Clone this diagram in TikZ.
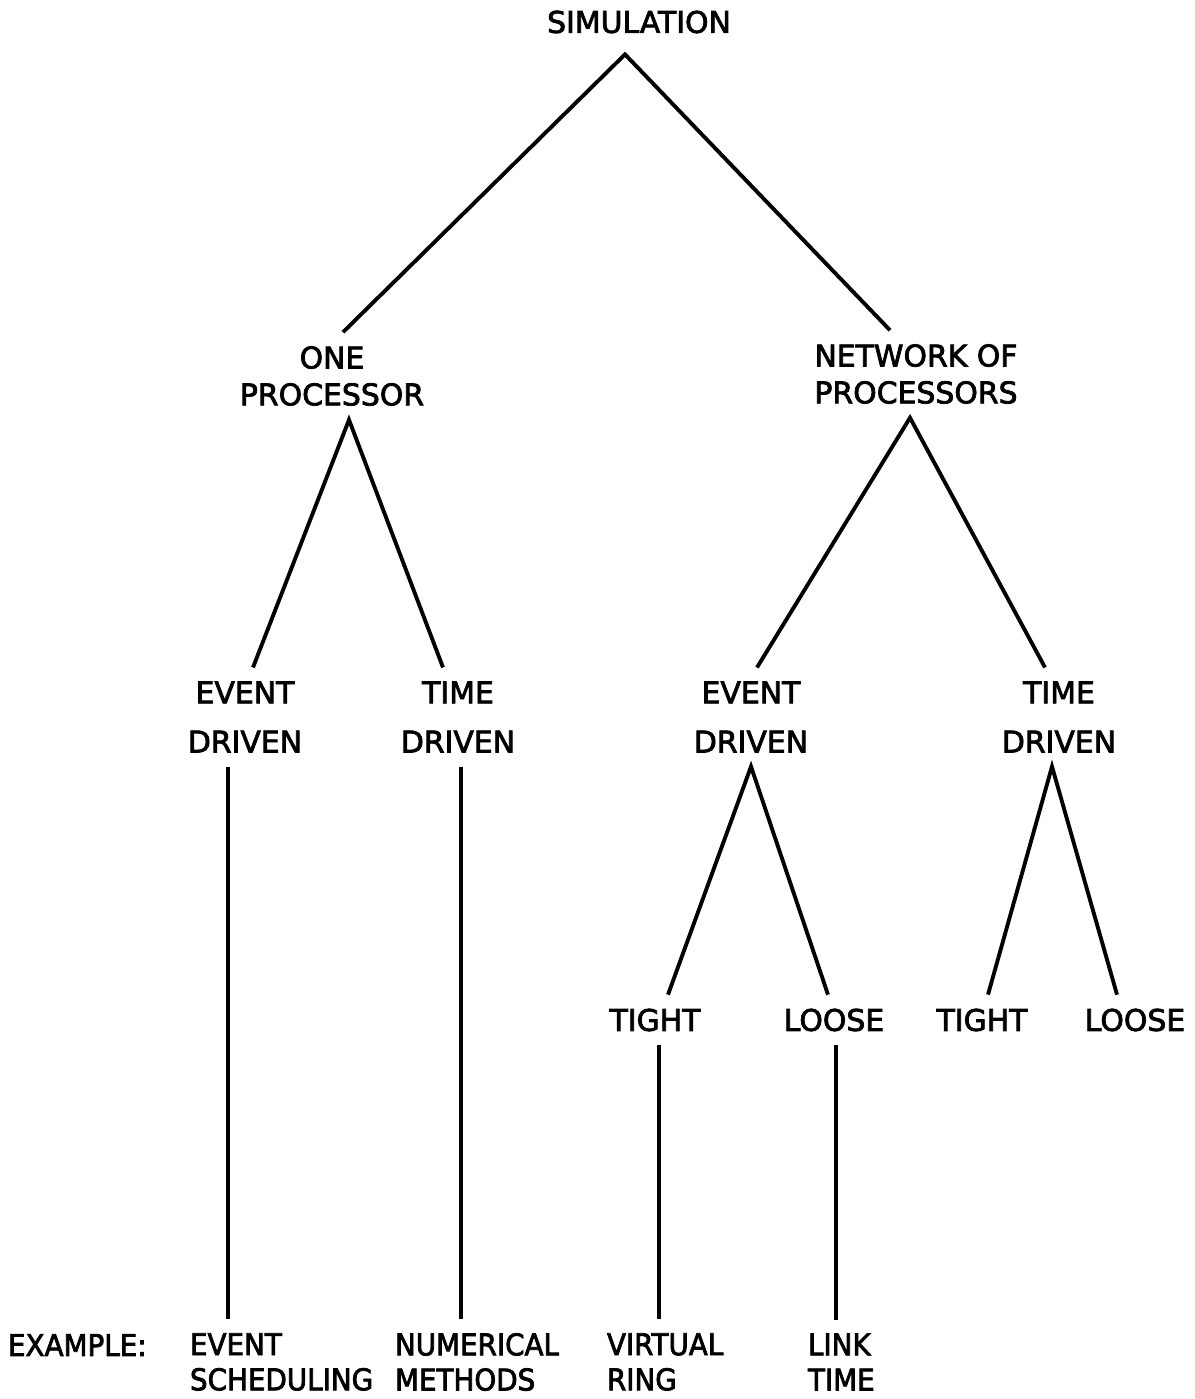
\documentclass[tikz,border=0pt]{standalone}
\usepackage{fontspec}
\setmainfont{DejaVu Sans}[FakeBold=2.5]
\newcommand{\lblfont}{\fontsize{17}{21}\selectfont}
\begin{document}
\begin{tikzpicture}[x=0.02cm, y=-0.02cm, line width=2.2pt]
\tikzstyle{every node}=[font=\lblfont, inner sep=0pt, outer sep=8pt]
\tikzstyle{lbl}=[align=center]
\tikzstyle{ex}=[align=left, anchor=west, outer xsep=0pt, font=\lblfont\addfontfeature{FakeStretch=0.93}]
\useasboundingbox (0,0) rectangle (1194,1399);
% levels of the tree
\node[lbl,outer sep=12pt](sim) at (639,22) {SIMULATION};
\node[lbl](one) at (332,376) {ONE\\PROCESSOR};
\node[lbl](net) at (916,374) {NETWORK OF\\PROCESSORS};
\node[lbl](ed1) at (245,717) {EVENT\\[7pt]DRIVEN};
\node[lbl](td1) at (458,717) {TIME\\[7pt]DRIVEN};
\node[lbl](ed2) at (751,717) {EVENT\\[7pt]DRIVEN};
\node[lbl](td2) at (1059,717) {TIME\\[7pt]DRIVEN};
\node[lbl](ti1) at (655,1020) {TIGHT};
\node[lbl](lo1) at (834,1020) {LOOSE};
\node[lbl](ti2) at (982,1020) {TIGHT};
\node[lbl](lo2) at (1135,1020) {LOOSE};
% examples along the bottom
\node[ex](exl) at (8,1345) {EXAMPLE:};
\node[ex](ex1) at (190,1362) {EVENT\\[-1pt]SCHEDULING};
\node[ex](ex2) at (395,1362) {NUMERICAL\\[-1pt]METHODS};
\node[ex](ex3) at (607,1362) {VIRTUAL\\[-1pt]RING};
\node[ex](ex4) at (808,1362) {LINK\\[-1pt]TIME};
% branches
\draw ([xshift=0.22cm]one.north) -- ([xshift=-0.28cm]sim.south) -- ([xshift=-0.52cm]net.north);
\draw ([xshift=0.16cm]ed1.north) -- ([xshift=0.34cm]one.south) -- ([xshift=-0.30cm]td1.north);
\draw ([xshift=0.12cm]ed2.north) -- ([xshift=-0.12cm]net.south) -- ([xshift=-0.28cm]td2.north);
\draw ([xshift=0.26cm]ti1.north) -- (ed2.south) -- ([xshift=-0.12cm]lo1.north);
\draw ([xshift=0.12cm]ti2.north) -- ([xshift=-0.14cm]td2.south) -- ([xshift=-0.36cm]lo2.north);
\draw ([xshift=-0.34cm]ed1.south) -- ([xshift=-0.34cm]ed1.south |- ex1.north);
\draw ([xshift=0.06cm]td1.south) -- ([xshift=0.06cm]td1.south |- ex2.north);
\draw ([xshift=0.08cm]ti1.south) -- ([xshift=0.08cm]ti1.south |- ex3.north);
\draw ([xshift=0.04cm]lo1.south) -- ([xshift=0.04cm]lo1.south |- ex4.north);
\end{tikzpicture}
\end{document}
